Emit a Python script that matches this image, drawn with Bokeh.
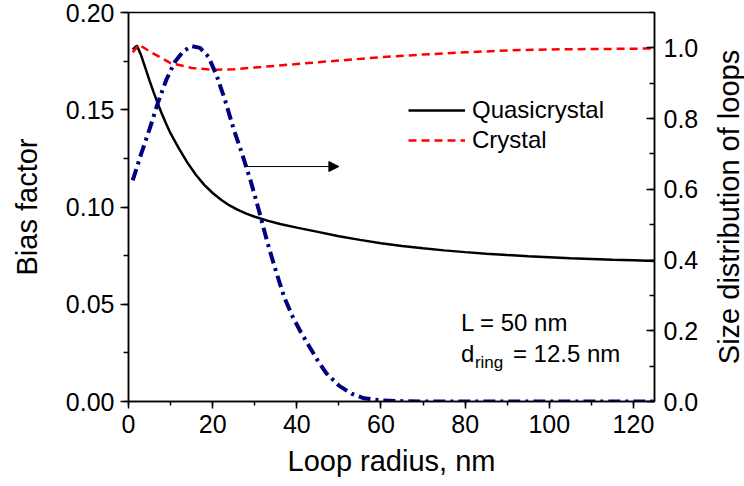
import math
from bokeh.plotting import figure
from bokeh.models import (Range1d, LinearAxis, SingleIntervalTicker, NumeralTickFormatter,
                          Legend, LegendItem, Label, Arrow, NormalHead)
from bokeh.embed import file_html
from bokeh.resources import INLINE

FONT = "Liberation Sans"

# Quasicrystal bias factor (left axis)
quasi_x = [1, 2, 3, 4, 5, 6, 7, 8, 9, 10, 12, 14, 16, 18, 20, 22, 24, 26, 28, 30, 33, 36, 40, 45, 50,
           55, 60, 65, 70, 75, 80, 85, 90, 95, 100, 105, 110, 115, 120, 125]
quasi_y = [0.181, 0.183, 0.178, 0.1715, 0.1650, 0.1588, 0.1530, 0.1476, 0.1425, 0.1378, 0.1300, 0.1228,
           0.1166, 0.1114, 0.1072, 0.1037, 0.1008, 0.0985, 0.0966, 0.0950, 0.0930, 0.0913, 0.0894, 0.0872,
           0.0850, 0.0831, 0.0814, 0.0800, 0.0788, 0.0777, 0.0768, 0.0760, 0.0753, 0.0747, 0.0742, 0.0737,
           0.0733, 0.0729, 0.0726, 0.0723]

# Crystal bias factor (left axis)
cryst_x = [1, 2.5, 5, 10, 15, 20, 25, 30, 40, 50, 60, 70, 80, 90, 100, 110, 125]
cryst_y = [0.1795, 0.1835, 0.180, 0.174, 0.1715, 0.1705, 0.1708, 0.1717, 0.1735, 0.1753, 0.177, 0.1784,
           0.1795, 0.1805, 0.181, 0.1812, 0.1815]

# Size distribution of loops (right axis)
dist_x = [1, 3, 5, 7, 9, 11, 13, 15, 17, 19, 21, 23, 25, 27, 29, 31, 33, 35, 37, 39, 41, 43, 45, 47, 50,
          53, 56, 60, 65, 70, 80, 90, 100, 110, 125]
dist_y = [0.625, 0.70, 0.77, 0.845, 0.91, 0.96, 0.99, 1.005, 1.0, 0.975, 0.92, 0.85, 0.77, 0.70, 0.625, 0.54,
          0.45, 0.37, 0.295, 0.24, 0.195, 0.155, 0.115, 0.08, 0.045, 0.022, 0.009, 0.003, 0.001, 0, 0, 0, 0, 0, 0]

x_ticks_interval = 20
left_tick_interval = 0.05
right_tick_interval = 0.2
right_title = "Size distribution of loops"

p = figure(width=744, height=486, output_backend="svg", toolbar_location=None,
           x_range=Range1d(0, 125), y_range=Range1d(0, 0.2),
           min_border_left=128, min_border_right=90, min_border_top=12, min_border_bottom=85)
p.extra_y_ranges = {"dist": Range1d(0, 1.1)}
p.xgrid.visible = False
p.ygrid.visible = False
p.outline_line_color = "black"
p.outline_line_width = 1.5
p.background_fill_color = "white"
p.border_fill_color = "white"

r_q = p.line(quasi_x, quasi_y, line_color="black", line_width=2.5)
r_c = p.line(cryst_x, cryst_y, line_color="#ff0000", line_width=2.5, line_dash="8 5")
p.line(dist_x, dist_y, line_color="#000080", line_width=4, line_dash="12 5 3 5", y_range_name="dist")

def style_axis(ax):
    ax.axis_line_color = "black"
    ax.axis_line_width = 1.5
    ax.major_tick_line_color = "black"
    ax.minor_tick_line_color = "black"
    ax.major_tick_line_width = 1.5
    ax.minor_tick_line_width = 1.5
    ax.major_label_text_font = FONT
    ax.major_label_text_font_size = "25px"
    ax.major_label_text_color = "black"
    ax.axis_label_text_font = FONT
    ax.axis_label_text_font_size = "29px"
    ax.axis_label_text_font_style = "normal"
    ax.axis_label_text_color = "black"

xa = p.xaxis[0]
style_axis(xa)
xa.ticker = SingleIntervalTicker(interval=x_ticks_interval, num_minor_ticks=2)
xa.formatter = NumeralTickFormatter(format="0")
xa.major_tick_out = 7
xa.major_tick_in = 0
xa.minor_tick_out = 4
xa.minor_tick_in = 0
xa.major_label_standoff = 6
xa.axis_label = "Loop radius, nm"
xa.axis_label_standoff = 9

ya = p.yaxis[0]
style_axis(ya)
ya.ticker = SingleIntervalTicker(interval=left_tick_interval, num_minor_ticks=2)
ya.formatter = NumeralTickFormatter(format="0.00")
ya.major_tick_out = 8
ya.major_tick_in = 0
ya.minor_tick_out = 5
ya.minor_tick_in = 0
ya.major_label_standoff = 6
ya.axis_label = "Bias factor"
ya.axis_label_standoff = 20

ra = LinearAxis(y_range_name="dist")
style_axis(ra)
ra.ticker = SingleIntervalTicker(interval=right_tick_interval, num_minor_ticks=2)
ra.formatter = NumeralTickFormatter(format="0.0")
ra.major_tick_out = 0
ra.major_tick_in = 8
ra.minor_tick_out = 0
ra.minor_tick_in = 5
ra.major_label_standoff = 9
p.add_layout(ra, "right")

# right axis title (reads bottom-to-top), placed in the right side panel so it is not clipped
p.add_layout(Label(x=125, y=0.1, x_offset=74, text=right_title, angle=math.pi / 2,
                   text_font=FONT, text_font_size="29px", text_color="black",
                   text_align="center", text_baseline="middle"), "right")

legend = Legend(items=[LegendItem(label="Quasicrystal", renderers=[r_q]),
                       LegendItem(label="Crystal", renderers=[r_c])],
                location=(280, 246), orientation="vertical",
                glyph_width=57, glyph_height=30, label_height=30, label_standoff=7,
                spacing=0, padding=0, margin=0,
                label_text_font=FONT, label_text_font_size="24px", label_text_color="black",
                border_line_color=None, background_fill_alpha=0)
p.add_layout(legend, "center")

for txt, xo, yv, fs in [("L = 50 nm", 0, 0.0406, "24px"), ("d", 0, 0.0247, "24px"),
                        ("ring", 14, 0.0200, "17px"), ("= 12.5 nm", 52, 0.0247, "24px")]:
    p.add_layout(Label(x=79, y=yv, x_offset=xo, text=txt, text_font=FONT, text_font_size=fs,
                       text_color="black", text_baseline="alphabetic", text_align="left"))

p.add_layout(Arrow(end=NormalHead(size=10, fill_color="black", line_color="black"),
                   x_start=27.9, y_start=0.1208, x_end=50, y_end=0.1208,
                   line_color="black", line_width=1))

open("out.html", "w").write(file_html(p, INLINE))
